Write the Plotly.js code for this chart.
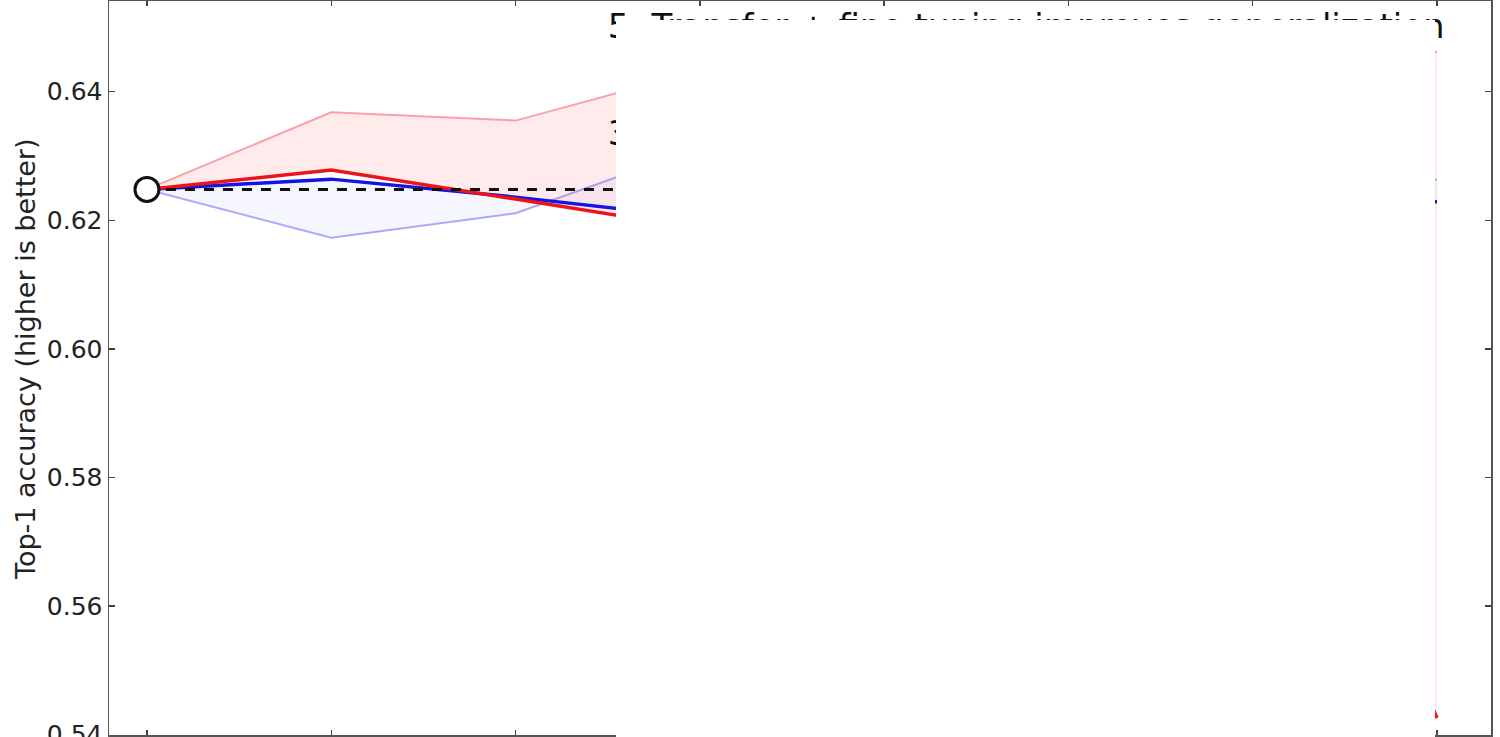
<!DOCTYPE html>
<html>
<head>
<meta charset="utf-8">
<script src="https://cdn.plot.ly/plotly-3.0.1.min.js"></script>
<style>html,body{margin:0;padding:0;background:#fff;}#chart{width:1500px;height:737px;}</style>
</head>
<body>
<div id="chart"></div>
<script>
// ---- data (x = layer index) ----
const layers   = [0, 1, 2, 3, 4, 5, 6, 7];
const baseline = [0.6248, 0.6248, 0.6248, 0.6248, 0.6248, 0.6248, 0.6248, 0.6248];
const redMean  = [0.6248, 0.6278, 0.6233, 0.6187, 0.6150, 0.6110, 0.6050, 0.5426];
const redEdge  = [0.6248, 0.6368, 0.6355, 0.6433, 0.6440, 0.6448, 0.6455, 0.6462];
const blueMean = [0.6248, 0.6264, 0.6236, 0.6204, 0.6210, 0.6218, 0.6224, 0.6229];
const blueEdge = [0.6248, 0.6173, 0.6211, 0.6313, 0.6300, 0.6290, 0.6278, 0.6263];
const yTickVals = [0.54, 0.56, 0.58, 0.60, 0.62, 0.64];
const yTickText = ['0.54', '0.56', '0.58', '0.60', '0.62', '0.64'];
const noteLabels = ['5: Transfer + fine-tuning improves generalization',
                    '3: Fine-tuning recovers co-adapted interactions'];
const noteX = [2.50, 2.50];
const noteY = [0.6496, 0.6331];
const yTitle = 'Top-1 accuracy (higher is better)';

const FONT = 'DejaVu Sans, Liberation Sans, sans-serif';

const traces = [
  {x: layers, y: blueMean, mode: 'lines', line: {width: 0, color: 'rgba(0,0,0,0)'}, hoverinfo: 'skip'},
  {x: layers, y: blueEdge, mode: 'lines', line: {width: 2, color: 'rgb(170,170,250)'},
   fill: 'tonexty', fillcolor: 'rgba(80,80,255,0.05)'},
  {x: layers, y: redMean, mode: 'lines', line: {width: 0, color: 'rgba(0,0,0,0)'}, hoverinfo: 'skip'},
  {x: layers, y: redEdge, mode: 'lines', line: {width: 2, color: 'rgb(250,160,168)'},
   fill: 'tonexty', fillcolor: 'rgba(255,60,60,0.10)'},
  {x: layers, y: blueMean, mode: 'lines', line: {width: 3.5, color: 'rgb(20,20,230)'}},
  {x: layers, y: redMean, mode: 'lines', line: {width: 3.5, color: 'rgb(235,20,25)'}},
  {x: layers, y: baseline, mode: 'lines', line: {width: 3, color: '#111', dash: '10px,9px'}},
  {x: [layers[0]], y: [baseline[0]], mode: 'markers',
   marker: {symbol: 'circle', size: 24, color: '#fff', line: {color: '#111', width: 3}}},
  {x: noteX, y: noteY, mode: 'text', text: noteLabels, textposition: 'middle right',
   textfont: {family: FONT, size: 34, color: '#111'}, cliponaxis: false}
];

const plotL = 109, plotR = 1491, plotT = 1, plotB = 735;
const pw = plotR - plotL, ph = plotB - plotT;

const layout = {
  width: 1500, height: 737,
  margin: {l: plotL, r: 1500 - plotR, t: plotT, b: 737 - plotB, pad: 0},
  paper_bgcolor: '#fff', plot_bgcolor: '#fff',
  showlegend: false,
  font: {family: FONT, color: '#222'},
  xaxis: {
    range: [-0.206, 7.293], tickvals: layers, showticklabels: false,
    ticks: 'inside', ticklen: 5, tickwidth: 1.5, tickcolor: '#444',
    showline: true, linecolor: '#555', linewidth: 1.5, mirror: 'ticks',
    showgrid: false, zeroline: false, fixedrange: true
  },
  yaxis: {
    range: [0.53995, 0.53995 + ph / 6430], tickvals: yTickVals, ticktext: yTickText,
    ticks: 'inside', ticklen: 6, tickwidth: 1.5, tickcolor: '#444',
    tickfont: {family: FONT, size: 25, color: '#222'}, ticklabeloverflow: 'allow',
    showline: true, linecolor: '#555', linewidth: 1.5, mirror: 'ticks',
    showgrid: false, zeroline: false, fixedrange: true
  },
  annotations: [{
    text: yTitle, textangle: -90, showarrow: false,
    xref: 'paper', yref: 'paper', x: (26 - plotL) / pw, y: (plotB - 360) / ph,
    xanchor: 'center', yanchor: 'middle',
    font: {family: FONT, size: 27, color: '#222'}
  }],
  shapes: [{
    type: 'rect', layer: 'above', xref: 'paper', yref: 'paper',
    x0: (616 - plotL) / pw, x1: (1435 - plotL) / pw,
    y0: -0.02, y1: (plotB - 20) / ph,
    fillcolor: '#fff', line: {width: 0}
  }]
};

Plotly.newPlot('chart', traces, layout, {displayModeBar: false, staticPlot: true});
</script>
</body>
</html>
